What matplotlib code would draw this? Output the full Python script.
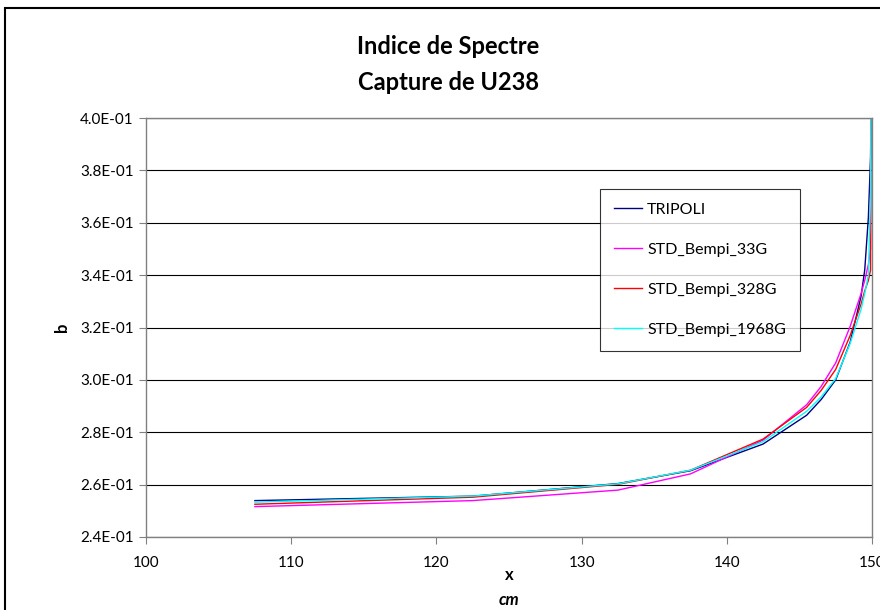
import matplotlib
matplotlib.use("Agg")
import matplotlib.pyplot as plt
from matplotlib.ticker import FuncFormatter, MultipleLocator
from matplotlib.patches import Rectangle

plt.rcParams['font.family'] = ['Lato', 'DejaVu Sans']

x = [107.5, 122.5, 132.5, 137.5, 142.5, 145.5, 146.5, 147.5, 148.5, 149.25, 149.5, 149.75, 149.9, 150.0]
tripoli = [0.2539, 0.2556, 0.2604, 0.2653, 0.2755, 0.2865, 0.2925, 0.3000, 0.3145, 0.3320, 0.3420, 0.3620, 0.3850, 0.4400]
bempi_33g = [0.2516, 0.2539, 0.2579, 0.2641, 0.2770, 0.2905, 0.2975, 0.3065, 0.3205, 0.3330, 0.3380, 0.3440, 0.3500, 0.6000]
bempi_328g = [0.2525, 0.2552, 0.2601, 0.2655, 0.2774, 0.2895, 0.2960, 0.3040, 0.3170, 0.3290, 0.3340, 0.3380, 0.3420, 0.6000]
bempi_1968g = [0.2533, 0.2556, 0.2603, 0.2655, 0.2764, 0.2880, 0.2935, 0.3005, 0.3140, 0.3270, 0.3330, 0.3400, 0.3700, 0.5000]

series = [
    ("TRIPOLI", tripoli, "#000080"),
    ("STD_Bempi_33G", bempi_33g, "#FF00FF"),
    ("STD_Bempi_328G", bempi_328g, "#FF0000"),
    ("STD_Bempi_1968G", bempi_1968g, "#00FFFF"),
]

W, H = 880, 610
fig = plt.figure(figsize=(W / 100, H / 100), dpi=100)
ax = fig.add_axes([146 / W, 1 - 537 / H, (872 - 146) / W, (537 - 118) / H])

for name, vals, col in series:
    ax.plot(x, vals, color=col, lw=1.0, label=name)

ax.set_xlim(100, 150)
ax.set_ylim(0.24, 0.40)
ax.xaxis.set_major_locator(MultipleLocator(10))
ax.yaxis.set_major_locator(MultipleLocator(0.02))
ax.yaxis.set_major_formatter(FuncFormatter(lambda v, p: f"{v:.1E}"))
ax.grid(axis='y', color='black', lw=0.8)
ax.set_axisbelow(True)
for s in ax.spines.values():
    s.set_color('#808080')
    s.set_linewidth(1.0)
ax.tick_params(axis='both', direction='out', length=5, color='#808080', labelsize=11)
ax.tick_params(axis='x', pad=9)
ax.tick_params(axis='y', pad=4)

leg = ax.legend(loc='upper left', bbox_to_anchor=(600 / W, 1 - 189 / H),
                bbox_transform=fig.transFigure, frameon=True, fancybox=False,
                fontsize=11.5, handlelength=1.75, labelspacing=1.62,
                borderpad=0.85, handletextpad=0.35, borderaxespad=0)
leg.get_frame().set_edgecolor('black')
leg.get_frame().set_linewidth(0.8)

fig.text(448 / W, 1 - 47 / H, "Indice de Spectre", ha='center', va='center',
         fontsize=17, fontweight='bold')
fig.text(448 / W, 1 - 82 / H, "Capture de U238", ha='center', va='center',
         fontsize=17, fontweight='bold')
fig.text(62 / W, 1 - 327 / H, "b", ha='center', va='center', rotation=90,
         fontsize=12, fontweight='bold')
fig.text(509 / W, 1 - 575 / H, "x", ha='center', va='center',
         fontsize=12, fontweight='bold')
fig.text(509 / W, 1 - 600 / H, "cm", ha='center', va='center',
         fontsize=12, fontweight='bold', style='italic')

fig.patches.append(Rectangle((4.5 / W, -0.05), 1.2, 1 - 7.5 / H + 0.05,
                             transform=fig.transFigure, fill=False,
                             edgecolor='black', lw=1.5))

fig.savefig("out.png", dpi=100)
